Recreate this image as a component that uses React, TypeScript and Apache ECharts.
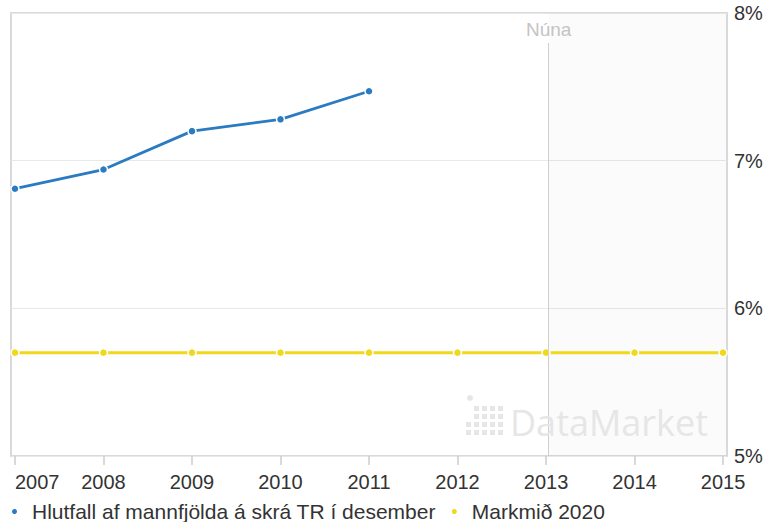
import React, { useEffect, useRef } from "react";
import * as echarts from "echarts";

const years = [2007, 2008, 2009, 2010, 2011, 2012, 2013, 2014, 2015];
const shareYears = [2007, 2008, 2009, 2010, 2011];
const shareValues = [6.81, 6.94, 7.2, 7.28, 7.47];
const targetValues = [5.7, 5.7, 5.7, 5.7, 5.7, 5.7, 5.7, 5.7, 5.7];
const yTicks = [5, 6, 7, 8];
const nowYear = 2013.03;
const nowLabel = "Núna";
const seriesNames = ["Hlutfall af mannfjölda á skrá TR í desember", "Markmið 2020"];

const FONT = "'Liberation Sans', Arial, sans-serif";

// watermark logo cells (col, row) – decoration only
const logoCells: [number, number][] = [
  [1, 1], [2, 1], [3, 1], [4, 1],
  [1, 2], [2, 2], [3, 2], [4, 2],
  [0, 3], [1, 3], [2, 3], [3, 3], [4, 3],
  [0, 4], [1, 4], [2, 4], [3, 4], [4, 4],
];

export default function App() {
  const ref = useRef<HTMLDivElement>(null);
  useEffect(() => {
    if (!ref.current) return;
    const chart = echarts.init(ref.current, null, { renderer: "svg" });

    const logo: any[] = logoCells.map(([c, r]) => ({
      type: "rect",
      z: 100,
      shape: { x: 466 + c * 8, y: 398 + r * 8, width: 5, height: 5 },
      style: { fill: "#e6e6e6" },
      silent: true,
    }));
    logo.push({
      type: "circle",
      z: 100,
      shape: { cx: 470, cy: 398, r: 3 },
      style: { fill: "#e6e6e6" },
      silent: true,
    });
    logo.push({
      type: "text",
      z: 100,
      x: 510,
      y: 422,
      style: {
        text: "DataMarket",
        font: "36px 'Open Sans', sans-serif",
        fill: "#e6e6e6",
        verticalAlign: "middle",
        align: "left",
      },
      silent: true,
    });

    chart.setOption({
      animation: false,
      backgroundColor: "#ffffff",
      grid: {
        left: 11,
        right: 40,
        top: 13,
        bottom: 66,
        show: true,
        borderColor: "#d9d9d9",
        borderWidth: 2,
        backgroundColor: "#ffffff",
      },
      graphic: { elements: logo, z: 100 },
      legend: {
        left: 5,
        top: 496,
        icon: "circle",
        itemWidth: 7,
        itemHeight: 7,
        itemGap: 14,
        textStyle: { fontSize: 21, color: "#333", fontFamily: FONT, padding: [0, 0, 0, 9] },
        data: seriesNames,
      },
      xAxis: {
        type: "value",
        min: 2006.955,
        max: 2015.045,
        axisLine: { show: false },
        splitLine: { show: false },
        axisTick: {
          show: true,
          customValues: years,
          length: 9,
          lineStyle: { color: "#cccccc", width: 1.5 },
        },
        axisLabel: {
          customValues: years,
          formatter: (v: number) => String(Math.round(v)),
          fontSize: 20,
          fontFamily: FONT,
          color: "#333",
          margin: 16,
          alignMinLabel: "left",
        },
      },
      yAxis: {
        type: "value",
        position: "right",
        min: yTicks[0],
        max: yTicks[yTicks.length - 1],
        interval: 1,
        axisLine: { show: false },
        axisTick: { show: false },
        splitLine: { show: true, lineStyle: { color: "#e8e8e8", width: 1 } },
        axisLabel: {
          formatter: "{value}%",
          fontSize: 20,
          fontFamily: FONT,
          color: "#333",
          margin: 7,
        },
      },
      series: [
        {
          name: "area",
          type: "line",
          z: 0,
          data: [],
          markArea: {
            silent: true,
            itemStyle: { color: "rgba(0,0,0,0.015)" },
            data: [[{ xAxis: nowYear }, { xAxis: 2015.035 }]],
          },
          markLine: {
            silent: true,
            symbol: "none",
            lineStyle: { color: "#cfcfcf", width: 1, type: "solid" },
            label: {
              show: true,
              position: "start",
              formatter: nowLabel,
              fontSize: 19,
              fontFamily: FONT,
              color: "#c4c4c4",
              distance: 4,
            },
            data: [[{ coord: [nowYear, 7.797] }, { coord: [nowYear, 5] }]],
          },
        },
        {
          name: seriesNames[0],
          type: "line",
          z: 4,
          data: shareYears.map((y, i) => [y, shareValues[i]]),
          color: "#2a7bc1",
          lineStyle: { width: 2.8, color: "#2a7bc1" },
          symbol: "circle",
          symbolSize: 8,
          itemStyle: { color: "#2a7bc1", borderColor: "#ffffff", borderWidth: 1.5 },
        },
        {
          name: seriesNames[1],
          type: "line",
          z: 3,
          data: years.map((y, i) => [y, targetValues[i]]),
          color: "#f0d91c",
          lineStyle: { width: 3, color: "#f0d91c" },
          symbol: "circle",
          symbolSize: 8,
          itemStyle: { color: "#f0d91c", borderColor: "#ffffff", borderWidth: 1.5 },
        },
      ],
    });
    return () => chart.dispose();
  }, []);
  return (
    <div
      ref={ref}
      style={{ position: "absolute", left: 0, top: 0, width: 767, height: 522 }}
    />
  );
}
